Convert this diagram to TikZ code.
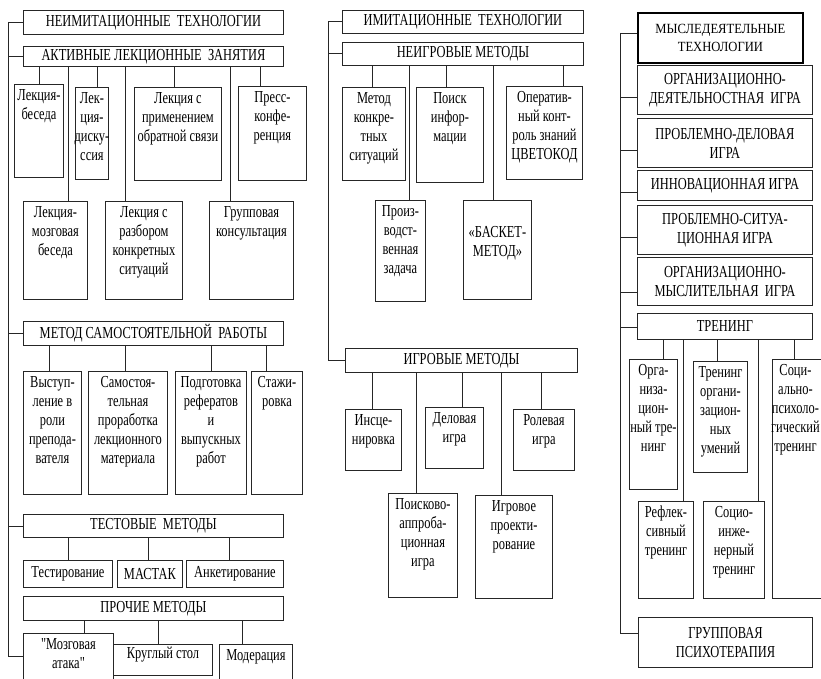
\documentclass[tikz,border=0pt]{standalone}
\usepackage{fontspec}
\setmainfont[FakeStretch=0.74,Ligatures=TeXOff]{Liberation Serif}
\newfontfamily\wideserif[FakeStretch=0.9,Ligatures=TeXOff]{Liberation Serif}
\tikzset{
  bx/.style={draw=black!85, line width=0.9pt, inner sep=0pt},
  mbx/.style={draw=black, line width=1.8pt, inner sep=0pt},
  txt/.style={inner sep=0pt, align=center, font=\fontsize{16.8}{19}\selectfont},
  ln/.style={draw=black!85, line width=0.9pt},
}
\newcommand\tbox[7][5]{%
  \pgfmathsetmacro\bw{#5-#3}\pgfmathsetmacro\bh{#6-#4}%
  \node[bx,minimum width=\bw pt,minimum height=\bh pt,anchor=north west] (#2) at (#3,#4) {};%
  \node[txt,anchor=north] (#2t) at ([yshift=-#1pt]#2.north) {#7};}
\newcommand\cbox[7][bx]{%
  \pgfmathsetmacro\bw{#5-#3}\pgfmathsetmacro\bh{#6-#4}%
  \node[txt,#1,minimum width=\bw pt,minimum height=\bh pt,anchor=north west] (#2) at (#3,#4) {#7};}
\newcommand\conn[3]{\draw[ln] (#2.north -| #3,0) -- (#1.south -| #3,0);}
\begin{document}
\begin{tikzpicture}[x=1pt,y=-1pt]
\useasboundingbox (0,0) rectangle (821,679);
\fill[white] (0,0) rectangle (821,679);
\clip (0,0) rectangle (821,679);
% ---------- left column ----------
\cbox{neim}{23}{10}{283}{34}{НЕИМИТАЦИОННЫЕ \ ТЕХНОЛОГИИ}
\cbox{akt}{23}{46}{283}{66}{АКТИВНЫЕ ЛЕКЦИОННЫЕ \ ЗАНЯТИЯ}
\tbox{lb}{14}{84}{63}{177}{Лекция-\\беседа}
\tbox{ld}{75}{87}{108}{179}{Лек-\\ция-\\диску-\\ссия}
\tbox{lo}{134}{87}{221}{180}{Лекция с\\применением\\обратной связи}
\tbox{pk}{238}{86}{306}{180}{Пресс-\\конфе-\\ренция}
\tbox{lm}{23}{201}{87}{299}{Лекция-\\мозговая\\беседа}
\tbox{lr}{105}{201}{182}{299}{Лекция с\\разбором\\конкретных\\ситуаций}
\tbox{gk}{209}{201}{293}{299}{Групповая\\консультация}
\conn{akt}{lb}{39}\conn{akt}{ld}{97}\conn{akt}{lo}{174}\conn{akt}{pk}{260}
\conn{akt}{lm}{68}\conn{akt}{lr}{125}\conn{akt}{gk}{230}
\cbox{msr}{23}{321}{283}{345}{МЕТОД САМОСТОЯТЕЛЬНОЙ \ РАБОТЫ}
\tbox{vy}{23}{371}{81}{494}{Выступ-\\ление в\\роли\\препода-\\вателя}
\tbox{sa}{88}{371}{167}{494}{Самостоя-\\тельная\\проработка\\лекционного\\материала}
\tbox{po}{175}{371}{246}{494}{Подготовка\\рефератов\\и\\выпускных\\работ}
\tbox{st}{251}{371}{302}{494}{Стажи-\\ровка}
\conn{msr}{vy}{49}\conn{msr}{sa}{125}\conn{msr}{po}{211}\conn{msr}{st}{266}
\cbox{test}{23}{514}{283}{537}{ТЕСТОВЫЕ \ МЕТОДЫ}
\cbox{te}{23}{560}{112}{587}{Тестирование}
\cbox{ma}{117}{560}{182}{587}{МАСТАК}
\cbox{an}{186}{560}{283}{587}{Анкетирование}
\conn{test}{te}{68}\conn{test}{ma}{148}\conn{test}{an}{229}
\cbox{pr}{23}{596}{283}{620}{ПРОЧИЕ МЕТОДЫ}
\tbox{mz}{23}{633}{113}{692}{"Мозговая\\атака"}
\tbox[3]{ks}{113}{644}{212}{675}{Круглый стол}
\tbox{mo}{219}{644}{292}{692}{Модерация}
\conn{pr}{mz}{84}\conn{pr}{ks}{158}\conn{pr}{mo}{242}
\coordinate (L1) at (8,22);
\coordinate (L2) at (8,656);
\draw[ln] (L1) -- (L2);
\draw[ln] (neim.west) -- (neim.west -| L1);
\draw[ln] (akt.west) -- (akt.west -| L1);
\draw[ln] (msr.west) -- (msr.west -| L1);
\draw[ln] (test.west) -- (test.west -| L1);
\draw[ln] (L2 -| mz.west) -- (L2);
% ---------- middle column ----------
\cbox{im}{342}{10}{583}{33}{ИМИТАЦИОННЫЕ \ ТЕХНОЛОГИИ}
\cbox{ne}{342}{42}{583}{65}{НЕИГРОВЫЕ МЕТОДЫ}
\tbox{mk}{342}{87}{405}{180}{Метод\\конкре-\\тных\\ситуаций}
\tbox{pi}{416}{87}{483}{182}{Поиск\\инфор-\\мации}
\tbox{ok}{506}{86}{582}{179}{Оператив-\\ный конт-\\роль знаний\\ЦВЕТОКОД}
\tbox{pz}{375}{200}{425}{301}{Произ-\\водст-\\венная\\задача}
\tbox[26]{bm}{463}{200}{531}{299}{«БАСКЕТ-\\МЕТОД»}
\conn{ne}{mk}{372}\conn{ne}{pi}{446}\conn{ne}{ok}{563}
\conn{ne}{pz}{409}\conn{ne}{bm}{493}
\cbox{ig}{345}{348}{577}{372}{ИГРОВЫЕ МЕТОДЫ}
\tbox{in}{345}{409}{401}{470}{Инсце-\\нировка}
\tbox{dg}{425}{407}{483}{468}{Деловая\\игра}
\tbox{rg}{513}{409}{574}{470}{Ролевая\\игра}
\tbox{pa}{388}{493}{457}{597}{Поисково-\\аппроба-\\ционная\\игра}
\tbox{ip}{475}{495}{552}{598}{Игровое\\проекти-\\рование}
\conn{ig}{in}{372}\conn{ig}{dg}{462}\conn{ig}{rg}{541}
\conn{ig}{pa}{416}\conn{ig}{ip}{501}
\coordinate (M1) at (328,22);
\coordinate (M2) at (328,360);
\draw[ln] (M1) -- (M2);
\draw[ln] (im.west) -- (im.west -| M1);
\draw[ln] (ne.west) -- (ne.west -| M1);
\draw[ln] (ig.west) -- (ig.west -| M1);
% ---------- right column ----------
\cbox[mbx,font=\wideserif\fontsize{14}{18}\selectfont]{mys}{637}{12}{802}{62}{МЫСЛЕДЕЯТЕЛЬНЫЕ\\ТЕХНОЛОГИИ}
\cbox{od}{637}{65}{812}{114}{ОРГАНИЗАЦИОННО-\\ДЕЯТЕЛЬНОСТНАЯ \ ИГРА}
\cbox{pd}{637}{118}{812}{167}{ПРОБЛЕМНО-ДЕЛОВАЯ\\ИГРА}
\cbox{ii}{637}{170}{812}{200}{ИННОВАЦИОННАЯ ИГРА}
\cbox{ps}{637}{205}{812}{254}{ПРОБЛЕМНО-СИТУА-\\ЦИОННАЯ ИГРА}
\cbox{om}{637}{257}{812}{305}{ОРГАНИЗАЦИОННО-\\МЫСЛИТЕЛЬНАЯ \ ИГРА}
\cbox{tr}{637}{313}{812}{339}{ТРЕНИНГ}
\tbox{ot}{629}{359}{677}{489}{Орга-\\низа-\\цион-\\ный тре-\\нинг}
\tbox{to}{693}{361}{747}{472}{Тренинг\\органи-\\зацион-\\ных\\умений}
\node[bx,minimum width=52pt,minimum height=239pt,anchor=north west] (sp) at (772,359) {};
\node[txt,anchor=north] (spt) at ([xshift=-3pt,yshift=-5pt]sp.north) {Соци-\\ально-\\психоло-\\гический\\тренинг};
\tbox{rt}{638}{501}{693}{598}{Рефлек-\\сивный\\тренинг}
\tbox{si}{703}{501}{764}{598}{Социо-\\инже-\\нерный\\тренинг}
\conn{tr}{ot}{663}\conn{tr}{to}{717}\conn{tr}{sp}{794}
\conn{tr}{rt}{683}\conn{tr}{si}{758}
\cbox{gp}{638}{617}{812}{667}{ГРУППОВАЯ\\ПСИХОТЕРАПИЯ}
\coordinate (R1) at (620,33);
\coordinate (R2) at (620,633);
\draw[ln] (R1) -- (R2);
\draw[ln] ([yshift=4pt]mys.west) -- ([yshift=4pt]mys.west -| R1);
\draw[ln] ([yshift=-7.5pt]od.west) -- ([yshift=-7.5pt]od.west -| R1);
\draw[ln] ([yshift=-7.5pt]pd.west) -- ([yshift=-7.5pt]pd.west -| R1);
\draw[ln] ([yshift=-7pt]ii.west) -- ([yshift=-7pt]ii.west -| R1);
\draw[ln] ([yshift=-7.5pt]ps.west) -- ([yshift=-7.5pt]ps.west -| R1);
\draw[ln] ([yshift=-11pt]om.west) -- ([yshift=-11pt]om.west -| R1);
\draw[ln] ([yshift=-1pt]tr.west) -- ([yshift=-1pt]tr.west -| R1);
\draw[ln] (R2 -| gp.west) -- (R2);
\end{tikzpicture}
\end{document}
